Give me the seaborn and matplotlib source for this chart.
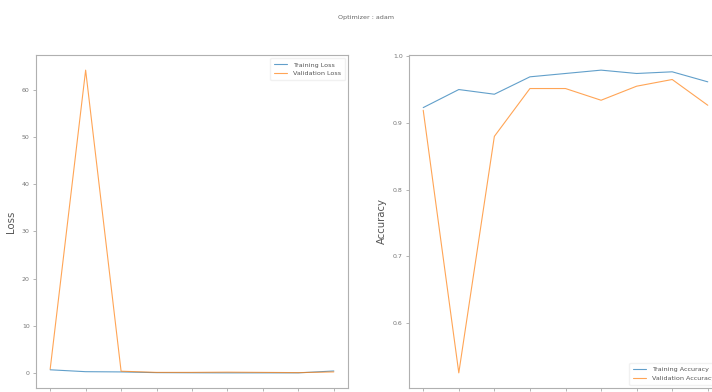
import matplotlib
matplotlib.use("Agg")
import matplotlib.pyplot as plt
import seaborn as sns
import pandas as pd

epochs = [1, 2, 3, 4, 5, 6, 7, 8, 9]
train_loss = [0.75, 0.35, 0.3, 0.15, 0.12, 0.1, 0.1, 0.1, 0.5]
val_loss = [0.9, 64.1, 0.45, 0.2, 0.2, 0.25, 0.2, 0.15, 0.3]
train_acc = [0.9225, 0.9495, 0.9425, 0.9685, 0.9735, 0.9785, 0.9735, 0.976, 0.961]
val_acc = [0.9185, 0.526, 0.8795, 0.951, 0.951, 0.9335, 0.9545, 0.9645, 0.926]
optimizer = "adam"

sns.set_theme(style="white")
plt.rcParams["font.family"] = ["DejaVu Sans"]
plt.rcParams["axes.edgecolor"] = "#b0b0b0"
plt.rcParams["axes.linewidth"] = 0.8
plt.rcParams["xtick.color"] = "#a8a8a8"
plt.rcParams["ytick.color"] = "#a8a8a8"
plt.rcParams["xtick.labelcolor"] = "#777777"
plt.rcParams["ytick.labelcolor"] = "#777777"

fig = plt.figure(figsize=(7.12, 3.92), dpi=100)
ax1 = fig.add_axes([36 / 712, 4 / 392, 312 / 712, 333 / 392])
ax2 = fig.add_axes([409 / 712, 4 / 392, 313 / 712, 333 / 392])

loss_df = pd.DataFrame({"epoch": epochs, "Training Loss": train_loss, "Validation Loss": val_loss})
acc_df = pd.DataFrame({"epoch": epochs, "Training Accuracy": train_acc, "Validation Accuracy": val_acc})

blue = "#1f77b4"
orange = "#ff7f0e"
kw = dict(lw=0.8, alpha=0.7)

sns.lineplot(data=loss_df, x="epoch", y="Training Loss", ax=ax1, color=blue, label="Training Loss", **kw)
sns.lineplot(data=loss_df, x="epoch", y="Validation Loss", ax=ax1, color=orange, label="Validation Loss", **kw)
sns.lineplot(data=acc_df, x="epoch", y="Training Accuracy", ax=ax2, color=blue, label="Training Accuracy", **kw)
sns.lineplot(data=acc_df, x="epoch", y="Validation Accuracy", ax=ax2, color=orange, label="Validation Accuracy", **kw)

for ax, ylab, loc in [(ax1, "Loss", "upper right"), (ax2, "Accuracy", "lower right")]:
    ax.set_xticks(epochs)
    ax.set_xlabel("")
    ax.set_ylabel(ylab, fontsize=7.3, color="#555555", labelpad=4)
    ax.tick_params(axis="both", labelsize=4.5, length=2.5, width=0.6, pad=2, bottom=True, left=True)
    leg = ax.legend(loc=loc, fontsize=4.6, frameon=True, framealpha=0.8, edgecolor="#eeeeee",
                    handlelength=2.0, handletextpad=0.9, borderpad=0.6, labelspacing=0.5)
    for t in leg.get_texts():
        t.set_color("#555555")

ax1.set_yticks([0, 10, 20, 30, 40, 50, 60])
ax2.set_yticks([0.6, 0.7, 0.8, 0.9, 1.0])

fig.suptitle("Optimizer : " + optimizer, fontsize=4.6, color="#666666", x=0.514, y=0.962)

fig.savefig("out.png", dpi=100)
